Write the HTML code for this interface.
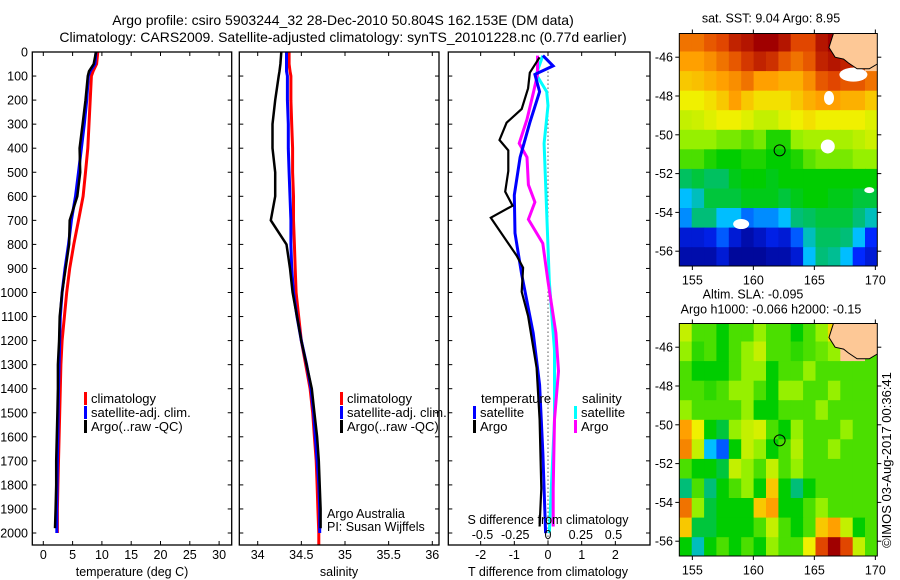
<!DOCTYPE html>
<html><head><meta charset="utf-8"><style>
html,body{margin:0;padding:0;background:#fff;}
svg{display:block;font-family:"Liberation Sans",sans-serif;}
</style></head><body>
<svg id="chart" width="900" height="580" viewBox="0 0 900 580" xmlns="http://www.w3.org/2000/svg">
<defs>
<clipPath id="cp1"><rect x="32" y="52" width="200" height="493"/></clipPath>
<clipPath id="cp2"><rect x="239" y="52" width="200" height="493"/></clipPath>
<clipPath id="cp3"><rect x="448" y="52" width="202" height="493"/></clipPath>
<clipPath id="cpm1"><rect x="679" y="33.5" width="198" height="232.5"/></clipPath>
<clipPath id="cpm2"><rect x="679" y="323.5" width="198" height="232.5"/></clipPath>
</defs>
<text x="343" y="25" font-size="14" text-anchor="middle">Argo profile: csiro 5903244_32 28-Dec-2010 50.804S 162.153E (DM data)</text>
<text x="343" y="42" font-size="14" text-anchor="middle">Climatology: CARS2009. Satellite-adjusted climatology: synTS_20101228.nc (0.77d earlier)</text>
<g id="g1"></g>
<g id="g2"></g>
<g id="g3"></g>
<g id="gm1"></g>
<g id="gm2"></g>
<text transform="translate(891,460) rotate(-90)" font-size="13" text-anchor="middle">©IMOS 03-Aug-2017 00:36:41</text>
</svg>
<script>
const depths=[0,50,80,100,200,300,400,500,600,700,800,900,1000,1100,1200,1300,1400,1500,1600,1700,1800,1900,2000];
const tempClim=[9.3,9.1,8.5,8.2,8.0,7.8,7.6,7.2,6.8,6.0,5.2,4.5,4.0,3.6,3.2,3.0,2.9,2.8,2.7,2.6,2.5,2.4,2.4];
const tempSat=[9.0,8.8,8.0,7.7,7.4,7.0,6.5,6.0,5.5,4.8,4.3,3.7,3.2,2.9,2.8,2.7,2.6,2.55,2.5,2.4,2.35,2.3,2.3];
const tempArgo=[9.0,8.6,7.8,7.6,7.2,6.7,6.2,6.3,5.8,4.5,4.4,3.8,3.2,2.8,2.7,2.5,2.5,2.4,2.3,2.2,2.2,2.1,2.0];
const salClim=[34.36,34.36,34.37,34.38,34.38,34.39,34.4,34.4,34.41,34.41,34.42,34.43,34.44,34.47,34.5,34.55,34.6,34.63,34.65,34.67,34.68,34.69,34.7];
const salSat=[34.33,34.33,34.33,34.34,34.34,34.35,34.35,34.36,34.37,34.38,34.38,34.39,34.41,34.45,34.5,34.56,34.61,34.64,34.66,34.68,34.7,34.71,34.71];
const salArgo=[34.27,34.26,34.25,34.24,34.2,34.17,34.17,34.2,34.2,34.15,34.33,34.37,34.4,34.45,34.5,34.56,34.62,34.65,34.68,34.7,34.71,34.72,34.72];
const dTArgoDepth=[22,86,151,237,294,366,409,495,581,639,689,847,897,997,1098,1313,1528,1815,1973];
const dTArgo=[-0.25,-0.54,-0.59,-0.78,-1.23,-1.44,-1.18,-1.18,-1.27,-1.05,-1.7,-0.93,-0.74,-0.78,-0.59,-0.34,-0.25,-0.2,-0.25];
const dTSatDepth=[15,58,93,165,294,438,595,753,925,1169,1384,1671,2001];
const dTSat=[-0.15,0.15,-0.39,-0.25,-0.54,-0.83,-1.0,-0.98,-0.78,-0.44,-0.25,-0.15,-0.07];
const dSArgoDepth=[15,93,165,280,380,438,552,624,696,796,954,1169,1327,1528,1815,1973];
const dSArgo=[-0.08,-0.08,-0.11,-0.16,-0.22,-0.16,-0.15,-0.1,-0.15,-0.04,0,0.06,0.08,0.05,0.04,0.04];
const dSSatDepth=[15,93,165,223,380,667,954,1241,1528,1815,2001];
const dSSat=[-0.04,-0.09,-0.01,0,-0.03,-0.01,0.01,0.05,0.05,0.025,0.01];
const depthTicks=[0,100,200,300,400,500,600,700,800,900,1000,1100,1200,1300,1400,1500,1600,1700,1800,1900,2000];
const tempTicks=[0,5,10,15,20,25,30];
const salTicks=[34,34.5,35,35.5,36];
const salTickLabels=["34","34.5","35","35.5","36"];
const dTTicks=[-2,-1,0,1,2];
const dSTicks=[-0.5,-0.25,0,0.25,0.5];
const dSTickLabels=["-0.5","-0.25","0","0.25","0.5"];
const lonTicks=[155,160,165,170];
const latTicks=[-46,-48,-50,-52,-54,-56];
const sstGrid=[
[.85,.85,.88,.9,.95,.97,1,1,.97,.9,.9,.97,1,-1,-1,-1],
[.8,.8,.82,.85,.88,.92,.95,.93,.88,.85,.88,.95,.97,.95,.9,-1],
[.75,.76,.78,.8,.82,.85,.8,.8,.78,.78,.82,.88,.9,.88,.88,.85],
[.7,.7,.72,.75,.8,.75,.72,.72,.72,.75,.78,.8,.8,.78,.78,.75],
[.65,.66,.68,.7,.7,.68,.65,.65,.68,.7,.72,.7,.7,.7,.7,.68],
[.6,.6,.6,.58,.58,.56,.58,.52,.52,.6,.62,.62,.62,.62,.64,.66],
[.55,.55,.52,.5,.5,.52,.52,.5,.5,.52,.56,.58,.58,.58,.6,.6],
[.42,.45,.42,.42,.48,.5,.5,.48,.5,.5,.5,.5,.5,.5,.5,.5],
[.3,.35,.45,.45,.45,.48,.48,.48,.45,.48,.5,.5,.48,.48,.45,.45],
[.25,.4,.4,.3,.3,.22,.25,.25,.3,.4,.42,.45,.45,.45,.4,.35],
[.1,.1,.12,.2,.1,.05,.08,.12,.1,.2,.35,.42,.42,.4,.3,.15],
[.05,.05,.05,.1,.03,.03,.03,.05,.05,.1,.3,.4,.38,.3,.15,.1]];
const slaGrid=[
[.6,.5,.5,.45,.5,.5,.55,.5,.5,.45,.5,.55,.68,-1,-1,-1],
[.55,.48,.5,.45,.5,.55,.6,.5,.5,.48,.5,.52,.55,-1,-1,.5],
[.5,.45,.45,.45,.5,.55,.55,.45,.5,.5,.55,.5,.5,.5,.5,.5],
[.5,.5,.48,.5,.55,.55,.5,.45,.55,.55,.5,.5,.55,.5,.5,.5],
[.55,.5,.5,.5,.5,.55,.45,.45,.5,.5,.5,.55,.5,.5,.5,.5],
[.75,.65,.45,.4,.55,.6,.62,.5,.45,.55,.5,.5,.5,.55,.5,.5],
[.78,.6,.25,.15,.45,.6,.55,.45,.5,.58,.5,.5,.55,.5,.5,.5],
[.5,.45,.45,.4,.6,.55,.5,.6,.5,.55,.5,.5,.5,.5,.5,.5],
[.35,.5,.35,.45,.5,.55,.45,.7,.45,.35,.45,.5,.5,.5,.5,.5],
[.8,.55,.4,.45,.45,.45,.7,.75,.45,.45,.5,.55,.5,.5,.5,.5],
[.7,.4,.4,.45,.45,.45,.5,.6,.5,.45,.5,.7,.75,.6,.45,.5],
[.45,.3,.45,.5,.45,.5,.45,.55,.5,.5,.65,.85,.95,.85,.6,.5]];
const argoLon=162.153, argoLat=-50.804;
const landLon=[166.6,170.3,170.3,169.5,168.5,167.8,167.4,166.7,166.2];
const landLat=[-44.7,-44.7,-46.3,-46.6,-46.6,-46.3,-46.1,-46.0,-45.5];

const NS='http://www.w3.org/2000/svg';
function mk(parent,tag,attrs,txt){const e=document.createElementNS(NS,tag);for(const k in attrs)e.setAttribute(k,attrs[k]);if(txt!==undefined)e.textContent=txt;parent.appendChild(e);return e;}
const yD=d=>52+d*0.2405;
const xT=t=>43.3+t*5.86;
const xS=s=>257.7+(s-34)*87.3;
const xdT=t=>548+t*33.67;
const xdS=s=>548+s*131;

function frame(g,x0,x1,name){
  const r=mk(g,'rect',{x:x0,y:52,width:x1-x0,height:493,fill:'none',stroke:'#000','stroke-width':1.3});
  
  
}
function yTicks(g,x0,x1,labels){
  depthTicks.forEach(d=>{
    const y=yD(d);
    mk(g,'line',{x1:x0,y1:y,x2:x0+4,y2:y,stroke:'#000'});
    mk(g,'line',{x1:x1-4,y1:y,x2:x1,y2:y,stroke:'#000'});
    if(labels){const t=mk(g,'text',{x:28,y:y+4.5,'font-size':12.5,'text-anchor':'end'},String(d));
      
      }
  });
}
function xTicks(g,vals,labs,fx,y0){
  vals.forEach((v,i)=>{const x=fx(v);
    mk(g,'line',{x1:x,y1:545,x2:x,y2:541,stroke:'#000'});
    mk(g,'line',{x1:x,y1:52,x2:x,y2:56,stroke:'#000'});
    const t=mk(g,'text',{x:x,y:y0,'font-size':12.5,'text-anchor':'middle'},labs[i]);
    
    });
}
function line(g,xs,ds,fx,color,w,name){
  const pts=xs.map((v,i)=>fx(v).toFixed(1)+','+yD(ds[i]).toFixed(1)).join(' ');
  const p=mk(g,'polyline',{points:pts,fill:'none',stroke:color,'stroke-width':w,'stroke-linejoin':'miter'});
  
  
}
function legend(g,x,y,color,label,name){
  const b=mk(g,'rect',{x:x,y:y-11,width:3,height:13,fill:color});
  
  
  const t=mk(g,'text',{x:x+7,y:y,'font-size':13},label);
  
  
}
// Panel 1
const g1=document.getElementById('g1');
const c1=mk(g1,'g',{'clip-path':'url(#cp1)'});
line(c1,tempClim,depths,xT,'#ff0000',3,'temp-climatology-line');
line(c1,tempSat,depths,xT,'#0000ff',3,'temp-satellite-line');
line(c1,tempArgo.slice(0,22).concat([2.0]),depths.slice(0,22).concat([1980]),xT,'#000',2.5,'temp-argo-line');
frame(g1,32.3,231.7,'temperature-axes-frame');
yTicks(g1,32.3,231.7,true);
xTicks(g1,tempTicks,tempTicks.map(String),xT,559);
let t=mk(g1,'text',{x:132,y:576,'font-size':12.5,'text-anchor':'middle'},'temperature (deg C)');


legend(g1,84,403,'#ff0000','climatology','legend-climatology');
legend(g1,84,417,'#0000ff','satellite-adj. clim.','legend-satellite');
legend(g1,84,431,'#000','Argo(..raw -QC)','legend-argo');
// Panel 2
const g2=document.getElementById('g2');
const c2=mk(g2,'g',{'clip-path':'url(#cp2)'});
line(c2,salClim.concat([34.7]),depths.concat([2050]),xS,'#ff0000',3,'sal-climatology-line');
line(c2,salSat,depths,xS,'#0000ff',3,'sal-satellite-line');
line(c2,salArgo.slice(0,22).concat([34.72]),depths.slice(0,22).concat([1980]),xS,'#000',2.5,'sal-argo-line');
frame(g2,239.3,439,'salinity-axes-frame');
yTicks(g2,239.3,439,false);
xTicks(g2,salTicks,salTickLabels,xS,559);
t=mk(g2,'text',{x:339,y:576,'font-size':12.5,'text-anchor':'middle'},'salinity');


legend(g2,340,403,'#ff0000','climatology','legend-climatology-2');
legend(g2,340,417,'#0000ff','satellite-adj. clim.','legend-satellite-2');
legend(g2,340,431,'#000','Argo(..raw -QC)','legend-argo-2');
t=mk(g2,'text',{x:327,y:518,'font-size':12.5},'Argo Australia');


t=mk(g2,'text',{x:327,y:531,'font-size':12.5},'PI: Susan Wijffels');


// Panel 3
const g3=document.getElementById('g3');
const c3=mk(g3,'g',{'clip-path':'url(#cp3)'});
const z=mk(c3,'line',{x1:548,y1:yD(65),x2:548,y2:545,stroke:'#000','stroke-width':1,'stroke-dasharray':'1,3'});


line(c3,dSSat,dSSatDepth,xdS,'#00ffff',3,'s-diff-satellite-line');
line(c3,dSArgo,dSArgoDepth,xdS,'#ff00ff',3,'s-diff-argo-line');
line(c3,dTSat,dTSatDepth,xdT,'#0000ff',3,'t-diff-satellite-line');
line(c3,dTArgo,dTArgoDepth,xdT,'#000',2.2,'t-diff-argo-line');
frame(g3,448.3,650,'difference-axes-frame');
yTicks(g3,448.3,650,false);
xTicks(g3,dTTicks,dTTicks.map(String),xdT,559);
dSTicks.forEach((v,i)=>{const tt=mk(g3,'text',{x:xdS(v),y:539,'font-size':12.5,'text-anchor':'middle'},dSTickLabels[i]);
  
  });
t=mk(g3,'text',{x:548,y:524,'font-size':12.5,'text-anchor':'middle'},'S difference from climatology');


t=mk(g3,'text',{x:548,y:576,'font-size':12.5,'text-anchor':'middle'},'T difference from climatology');


t=mk(g3,'text',{x:481,y:403,'font-size':13},'temperature');


t=mk(g3,'text',{x:582,y:403,'font-size':13},'salinity');


legend(g3,473,417,'#0000ff','satellite','legend-t-satellite');
legend(g3,473,431,'#000','Argo','legend-t-argo');
legend(g3,574,417,'#00ffff','satellite','legend-s-satellite');
legend(g3,574,431,'#ff00ff','Argo','legend-s-argo');
// Maps
const stops=[[0,[0,0,130]],[.15,[0,40,255]],[.3,[0,190,255]],[.4,[0,190,120]],[.5,[0,205,0]],[.6,[150,240,0]],[.7,[240,240,0]],[.8,[255,160,0]],[.9,[225,70,0]],[1,[160,0,0]]];
function cmap(v){v=Math.max(0,Math.min(1,v));for(let i=1;i<stops.length;i++){if(v<=stops[i][0]){const a=stops[i-1],b=stops[i];const f=(v-a[0])/(b[0]-a[0]);const c=a[1].map((q,k)=>Math.round(q+(b[1][k]-q)*f));return 'rgb('+c.join(',')+')';}}return 'rgb(160,0,0)';}
const LON0=153.93,LON1=170.17;
function drawMap(gid,cp,top,grid,title1,title2,nanSpots,shift){
  const g=document.getElementById(gid);
  const xL=lon=>679.3+(lon-LON0)*12.2;
  const yL=lat=>top+23.7+(-46-lat)*19.4;
  const c=mk(g,'g',{'clip-path':'url(#'+cp+')'});
  const nr=grid.length,nc=grid[0].length;
  const latTop=-44.7,latBot=-56.8;
  const dlon=(LON1-LON0)/nc,dlat=(latTop-latBot)/nr;
  grid.forEach((row,r)=>row.forEach((v,k)=>{
    const x0=xL(LON0+k*dlon),x1=xL(LON0+(k+1)*dlon),y0=yL(latTop-r*dlat),y1=yL(latTop-(r+1)*dlat);
    const cell=mk(c,'rect',{x:x0.toFixed(1),y:y0.toFixed(1),width:(x1-x0+0.6).toFixed(1),height:(y1-y0+0.6).toFixed(1),fill:v<0?'#fdc896':cmap(v+shift)});
    
    
  }));
  nanSpots.forEach(s=>{const e=mk(c,'ellipse',{cx:xL(s[0]),cy:yL(s[1]),rx:s[2],ry:s[3],fill:'#fff'});
    
    });
  const land=mk(c,'polygon',{points:landLon.map((lo,i)=>xL(lo).toFixed(1)+','+yL(landLat[i]).toFixed(1)).join(' '),fill:'#fdc896',stroke:'#000','stroke-width':1});
  
  
  const m=mk(c,'circle',{cx:xL(argoLon),cy:yL(argoLat),r:5.5,fill:'none',stroke:'#000','stroke-width':1});
  
  
  const fr=mk(g,'rect',{x:679.3,y:top,width:198,height:232.5,fill:'none',stroke:'#000','stroke-width':1});
  
  
  lonTicks.forEach(lo=>{const x=xL(lo);
    mk(g,'line',{x1:x,y1:top,x2:x,y2:top-4,stroke:'#000'});
    mk(g,'line',{x1:x,y1:top+232.5,x2:x,y2:top+236.5,stroke:'#000'});
    const tt=mk(g,'text',{x:x,y:top+251,'font-size':12.5,'text-anchor':'middle'},String(lo));
    
    });
  latTicks.forEach(la=>{const y=yL(la);
    mk(g,'line',{x1:679.3,y1:y,x2:675.3,y2:y,stroke:'#000'});
    mk(g,'line',{x1:877.3,y1:y,x2:881.3,y2:y,stroke:'#000'});
    const tt=mk(g,'text',{x:673,y:y+4.5,'font-size':12.5,'text-anchor':'end'},String(la));
    
    });
  const t1=mk(g,'text',{x:title2?753:771,y:title2?top-25:top-11,'font-size':12.5,'text-anchor':'middle'},title1);
  
  
  if(title2){const t2=mk(g,'text',{x:771,y:top-10,'font-size':12.5,'text-anchor':'middle'},title2);
    
    }
}
drawMap('gm1','cpm1',33.5,sstGrid,'sat. SST: 9.04 Argo: 8.95',null,[[168.2,-46.9,14,7],[166.2,-48.1,5,7],[166.1,-50.6,7,7],[159,-54.6,8,5],[169.5,-52.85,5,3]],0);
drawMap('gm2','cpm2',323.5,slaGrid,'Altim. SLA: -0.095','Argo h1000: -0.066 h2000: -0.15',[],0.05);
</script>
</body></html>
